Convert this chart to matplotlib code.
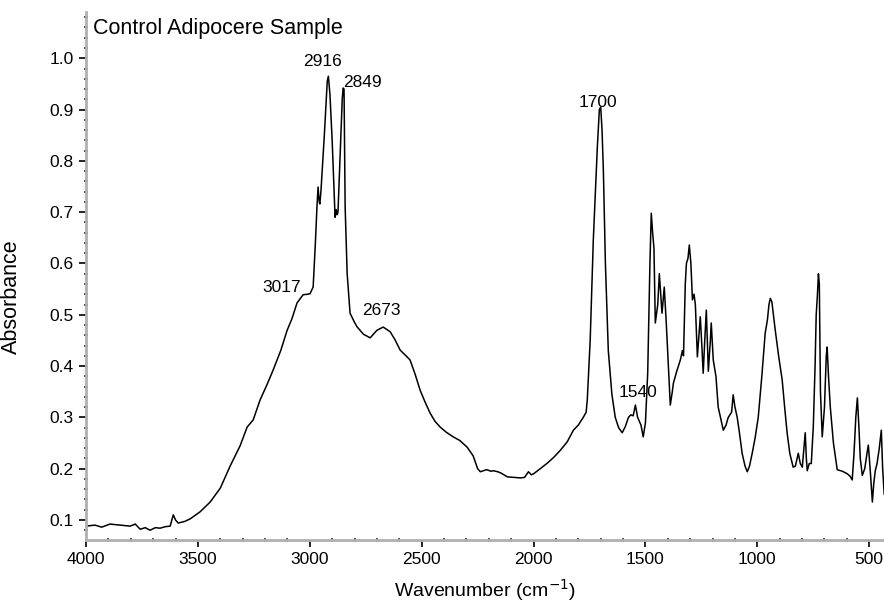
import matplotlib
matplotlib.use("Agg")
import matplotlib.pyplot as plt
from matplotlib.ticker import MultipleLocator

plt.rcParams['font.family'] = ['Liberation Sans', 'DejaVu Sans']

# ------------------------------------------------------------------
# Spectrum (wavenumber in cm-1, absorbance)
# ------------------------------------------------------------------
wavenumber = [
    4000, 3960, 3930, 3893, 3850, 3803, 3780, 3758, 3735, 3714, 3690, 3669,
    3645, 3624, 3610, 3600, 3588, 3560, 3535, 3490, 3445, 3400, 3356, 3311,
    3280, 3253, 3222, 3190, 3164, 3130, 3101, 3080, 3057, 3030, 3010, 2999,
    2985, 2975, 2968, 2963, 2958, 2955, 2950, 2935, 2922, 2917, 2910, 2900,
    2887, 2882, 2878, 2874, 2865, 2855, 2851, 2847, 2842, 2833, 2820, 2800,
    2788, 2760, 2730, 2710, 2699, 2672, 2641, 2620, 2596, 2570, 2552, 2530,
    2507, 2485, 2462, 2440, 2417, 2390, 2359, 2330, 2297, 2270, 2250, 2238,
    2210, 2190, 2180, 2160, 2148, 2117, 2090, 2059, 2040, 2023, 2010, 2000,
    1970, 1938, 1910, 1880, 1850, 1822, 1800, 1778, 1765, 1760, 1747, 1733,
    1715, 1706, 1700, 1694, 1688, 1679, 1666, 1650, 1635, 1620, 1604, 1590,
    1576, 1565, 1555, 1545, 1535, 1520, 1510, 1500, 1490, 1480, 1474, 1468,
    1462, 1456, 1445, 1438, 1432, 1426, 1416, 1407, 1395, 1389, 1380, 1375,
    1360, 1344, 1335, 1330, 1322, 1317, 1310, 1304, 1297, 1290, 1283, 1277,
    1268, 1255, 1248, 1242, 1235, 1228, 1219, 1210, 1206, 1197, 1185, 1175,
    1160, 1152, 1140, 1130, 1115, 1108, 1100, 1090, 1080, 1068, 1055, 1045,
    1035, 1023, 1010, 996, 980, 965, 955, 948, 942, 935, 920, 905,
    889, 878, 867, 855, 840, 830, 817, 808, 799, 792, 786, 781,
    777, 768, 759, 754, 750, 742, 737, 732, 727, 723, 718, 710,
    700, 692, 688, 682, 674, 660, 643, 620, 598, 585, 576, 568,
    560, 553, 546, 540, 531, 520, 510, 504, 496, 490, 486, 480,
    473, 465, 455, 446, 440, 433,
]
absorbance = [
    0.088, 0.090, 0.086, 0.092, 0.090, 0.088, 0.092, 0.082, 0.085, 0.080, 0.085, 0.084,
    0.087, 0.088, 0.110, 0.100, 0.094, 0.097, 0.102, 0.116, 0.135, 0.162, 0.205, 0.245,
    0.281, 0.295, 0.334, 0.365, 0.392, 0.430, 0.470, 0.492, 0.523, 0.539, 0.540, 0.541,
    0.554, 0.640, 0.710, 0.749, 0.720, 0.716, 0.742, 0.850, 0.955, 0.965, 0.930, 0.840,
    0.690, 0.705, 0.695, 0.700, 0.807, 0.920, 0.942, 0.940, 0.710, 0.580, 0.503, 0.485,
    0.476, 0.462, 0.455, 0.465, 0.470, 0.476, 0.467, 0.452, 0.431, 0.420, 0.412, 0.385,
    0.353, 0.330, 0.308, 0.292, 0.281, 0.271, 0.262, 0.255, 0.242, 0.225, 0.200, 0.194,
    0.198, 0.195, 0.196, 0.194, 0.192, 0.184, 0.183, 0.182, 0.183, 0.194, 0.188, 0.190,
    0.200, 0.211, 0.222, 0.236, 0.252, 0.275, 0.285, 0.300, 0.310, 0.334, 0.450, 0.646,
    0.827, 0.900, 0.905, 0.860, 0.780, 0.600, 0.430, 0.345, 0.300, 0.280, 0.270, 0.282,
    0.300, 0.305, 0.303, 0.324, 0.300, 0.285, 0.262, 0.290, 0.386, 0.600, 0.698, 0.660,
    0.630, 0.484, 0.520, 0.580, 0.540, 0.503, 0.554, 0.484, 0.380, 0.324, 0.350, 0.367,
    0.390, 0.412, 0.430, 0.420, 0.560, 0.600, 0.610, 0.636, 0.600, 0.529, 0.540, 0.520,
    0.418, 0.496, 0.440, 0.386, 0.450, 0.509, 0.390, 0.450, 0.484, 0.412, 0.380, 0.320,
    0.290, 0.275, 0.285, 0.300, 0.310, 0.344, 0.320, 0.300, 0.270, 0.230, 0.205, 0.194,
    0.205, 0.230, 0.260, 0.300, 0.380, 0.464, 0.490, 0.520, 0.532, 0.525, 0.470, 0.420,
    0.373, 0.320, 0.270, 0.230, 0.203, 0.205, 0.230, 0.210, 0.203, 0.240, 0.270, 0.220,
    0.196, 0.210, 0.210, 0.250, 0.281, 0.400, 0.500, 0.535, 0.580, 0.560, 0.350, 0.262,
    0.320, 0.420, 0.437, 0.380, 0.320, 0.250, 0.198, 0.195, 0.190, 0.185, 0.178, 0.230,
    0.300, 0.338, 0.280, 0.220, 0.187, 0.200, 0.230, 0.246, 0.200, 0.160, 0.135, 0.170,
    0.196, 0.210, 0.240, 0.275, 0.200, 0.150,
]

# peak labels: text, x, y, horizontal alignment
peak_labels = ["2916", "2849", "3017", "2673", "1700", "1540"]
peak_x = [2945, 2853, 3040, 2681, 1711, 1533]
peak_y = [0.993, 0.952, 0.554, 0.509, 0.913, 0.348]
peak_ha = ["center", "left", "right", "center", "center", "center"]

title = "Control Adipocere Sample"

# ------------------------------------------------------------------
# Figure
# ------------------------------------------------------------------
fig = plt.figure(figsize=(8.84, 6.04), dpi=100)
ax = fig.add_axes([0.0973, 0.106, 0.9027, 0.874])

ax.plot(wavenumber, absorbance, color="black", linewidth=1.1)

ax.set_xlim(4000, 434)
ax.set_ylim(0.061, 1.09)

ax.xaxis.set_major_locator(MultipleLocator(500))
ax.xaxis.set_minor_locator(MultipleLocator(100))
ax.yaxis.set_major_locator(MultipleLocator(0.1))
ax.yaxis.set_minor_locator(MultipleLocator(0.02))
ax.yaxis.set_major_formatter(plt.FuncFormatter(lambda v, p: f"{v:.1f}"))

for side in ("top", "right"):
    ax.spines[side].set_visible(False)
for side in ("left", "bottom"):
    ax.spines[side].set_color("#b0b0b0")
    ax.spines[side].set_linewidth(2.0)

ax.tick_params(which="major", direction="out", length=5, width=1.2,
               color="black", labelsize=12.5, pad=4)
ax.tick_params(which="minor", direction="inout", length=2.5, width=1.2,
               color="#333333")

for txt, x, y, ha in zip(peak_labels, peak_x, peak_y, peak_ha):
    ax.text(x, y, txt, ha=ha, va="center", fontsize=12.5)

ax.text(0.009, 0.988, title, transform=ax.transAxes, ha="left", va="top",
        fontsize=15.5)

ax.set_xlabel("Wavenumber (cm$^{-1}$)", fontsize=14, labelpad=7)
ax.set_ylabel("Absorbance", fontsize=15.5)
ax.yaxis.set_label_coords(-0.08, 0.46)

fig.savefig("out.png", dpi=100)
plt.close(fig)
